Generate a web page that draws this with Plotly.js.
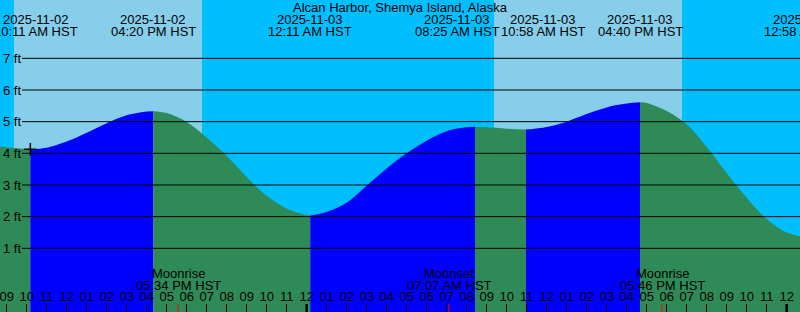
<!DOCTYPE html>
<html>
<head>
<meta charset="utf-8">
<script src="https://cdn.plot.ly/plotly-3.0.1.min.js"></script>
<style>
html,body{margin:0;padding:0;overflow:hidden;background:#00BFFF;}
#wrap{width:800px;height:312px;overflow:hidden;position:relative;}
#chart{width:840px;height:312px;}
</style>
</head>
<body>
<div id="wrap"><div id="chart"></div></div>
<script>
// ---- data ----
const stationName = 'Alcan Harbor, Shemya Island, Alaska';

const tideTimes = [
  '2025-11-02 08:40','2025-11-02 09:00','2025-11-02 10:00','2025-11-02 10:11',
  '2025-11-02 11:00','2025-11-02 12:00','2025-11-02 13:00','2025-11-02 14:00',
  '2025-11-02 15:00','2025-11-02 16:00','2025-11-02 16:20','2025-11-02 17:00',
  '2025-11-02 18:00','2025-11-02 19:00','2025-11-02 20:00','2025-11-02 21:00',
  '2025-11-02 22:00','2025-11-02 23:00','2025-11-03 00:00','2025-11-03 00:11',
  '2025-11-03 01:00','2025-11-03 02:00','2025-11-03 03:00','2025-11-03 04:00',
  '2025-11-03 05:00','2025-11-03 06:00','2025-11-03 07:00','2025-11-03 08:00',
  '2025-11-03 08:25','2025-11-03 09:00','2025-11-03 10:00','2025-11-03 10:58',
  '2025-11-03 12:00','2025-11-03 13:00','2025-11-03 14:00','2025-11-03 15:00',
  '2025-11-03 16:00','2025-11-03 16:40','2025-11-03 17:00','2025-11-03 18:00',
  '2025-11-03 19:00','2025-11-03 20:00','2025-11-03 21:00','2025-11-03 22:00',
  '2025-11-03 23:00','2025-11-04 00:00','2025-11-04 00:40'
];
const tideHeights = [
  4.21, 4.19, 4.135, 4.13,
  4.18, 4.37, 4.65, 4.95,
  5.20, 5.32, 5.33, 5.27,
  4.99, 4.50, 3.92, 3.25,
  2.66, 2.26, 2.05, 2.04,
  2.15, 2.44, 2.98, 3.52,
  4.00, 4.40, 4.70, 4.82,
  4.84, 4.82, 4.78, 4.75,
  4.83, 5.00, 5.24, 5.45,
  5.57, 5.61, 5.59, 5.34,
  4.92, 4.20, 3.38, 2.60,
  1.93, 1.50, 1.38
];

const extremeTimes = ['2025-11-02 10:11','2025-11-02 16:20','2025-11-03 00:11','2025-11-03 08:25','2025-11-03 10:58','2025-11-03 16:40','2025-11-04 00:58'];
const extremeDates = ['2025-11-02','2025-11-02','2025-11-03','2025-11-03','2025-11-03','2025-11-03','2025-11-04'];
const extremeClock = ['10:11 AM HST','04:20 PM HST','12:11 AM HST','08:25 AM HST','10:58 AM HST','04:40 PM HST','12:58 AM HST'];

const sunriseTimes = ['2025-11-02 09:22','2025-11-03 09:22'];
const sunsetTimes  = ['2025-11-02 18:46','2025-11-03 18:46'];

const moonTimes  = ['2025-11-02 17:34','2025-11-03 07:07','2025-11-03 17:46'];
const moonEvents = ['Moonrise','Moonset','Moonrise'];
const moonClock  = ['05:34 PM HST','07:07 AM HST','05:46 PM HST'];

const midnightTimes = ['2025-11-03 00:00','2025-11-04 00:00'];

const heightTicks = [1,2,3,4,5,6,7];
const heightTickLabels = ['1 ft','2 ft','3 ft','4 ft','5 ft','6 ft','7 ft'];

const markTimes = ['2025-11-02 10:11'];
const markHeights = [4.13];

// ---- layout constants ----
const W = 840, H = 312;
const xRange = ['2025-11-02 08:40','2025-11-04 02:40'];
const yRange = [-1.0105, 8.842];
const labelShift = [6, 0, 0, -18, 17, 0, 0];
const py = p => 1 - p / H;
const txtFont = {family: '"Liberation Sans", Arial, sans-serif', size: 13, color: '#000000'};

// ---- build segments split at tide extremes ----
const cut = [0];
tideTimes.forEach((t, i) => { if (i > 0 && i < tideTimes.length - 1 && extremeTimes.indexOf(t) >= 0) cut.push(i); });
cut.push(tideTimes.length - 1);

const traces = [];
for (let k = 0; k < cut.length - 1; k++) {
  const a = cut[k], b = cut[k + 1];
  const xs = tideTimes.slice(a, b + 1), ys = tideHeights.slice(a, b + 1);
  const rising = tideHeights[b] > tideHeights[a];
  traces.push({x: [xs[0], xs[xs.length - 1]], y: [yRange[0], yRange[0]], mode: 'lines',
    line: {width: 0}, hoverinfo: 'skip', showlegend: false});
  traces.push({x: xs, y: ys, mode: 'lines', line: {width: 0, shape: 'spline', smoothing: 1},
    fill: 'tonexty', fillcolor: rising ? '#0000FF' : '#2E8B57', hoverinfo: 'skip', showlegend: false});
}
traces.push({x: markTimes, y: markHeights, mode: 'markers',
  marker: {symbol: 'cross-thin', size: 9, line: {width: 1.5, color: '#000'}}, hoverinfo: 'skip', showlegend: false});

// ---- shapes ----
const shapes = [];
sunriseTimes.forEach((t, i) => shapes.push({type: 'rect', xref: 'x', yref: 'paper', x0: t, x1: sunsetTimes[i],
  y0: 0, y1: 1, fillcolor: '#87CEEB', line: {width: 0}, layer: 'below'}));
heightTicks.forEach(h => shapes.push({type: 'line', xref: 'paper', yref: 'y', x0: 22 / W, x1: 1, y0: h, y1: h,
  line: {color: '#000', width: 1}, layer: 'above'}));
moonTimes.forEach(t => shapes.push({type: 'line', xref: 'x', yref: 'paper', x0: t, x1: t, y0: 0, y1: 8 / H,
  line: {color: '#FF0000', width: 1}, layer: 'above'}));
midnightTimes.forEach(t => shapes.push({type: 'line', xref: 'x', yref: 'paper', x0: t, x1: t, y0: 0, y1: 8 / H,
  line: {color: '#000', width: 2.5}, layer: 'above'}));

// ---- annotations ----
const ann = [];
ann.push({text: stationName, xref: 'paper', yref: 'paper', x: 400 / W, y: py(7.2), xanchor: 'center', yanchor: 'middle', showarrow: false, font: txtFont});
extremeTimes.forEach((t, i) => {
  ann.push({text: extremeDates[i], xref: 'x', yref: 'paper', x: t, y: py(19.5), xanchor: 'center', yanchor: 'middle', xshift: labelShift[i], showarrow: false, font: txtFont});
  ann.push({text: extremeClock[i], xref: 'x', yref: 'paper', x: t, y: py(31.3), xanchor: 'center', yanchor: 'middle', xshift: labelShift[i], showarrow: false, font: txtFont});
});
moonTimes.forEach((t, i) => {
  ann.push({text: moonEvents[i], xref: 'x', yref: 'paper', x: t, y: py(273.8), xanchor: 'center', yanchor: 'middle', showarrow: false, font: txtFont});
  ann.push({text: moonClock[i], xref: 'x', yref: 'paper', x: t, y: py(285.5), xanchor: 'center', yanchor: 'middle', showarrow: false, font: txtFont});
});

const layout = {
  width: W, height: H,
  margin: {l: 0, r: 0, t: 0, b: 0, pad: 0},
  paper_bgcolor: '#00BFFF', plot_bgcolor: '#00BFFF',
  showlegend: false,
  font: txtFont,
  xaxis: {type: 'date', range: xRange, showgrid: false, zeroline: false, showline: false,
    ticks: 'inside', ticklen: 8, tickwidth: 1, tickcolor: '#000',
    dtick: 3600000, tick0: '2025-11-02 00:00', tickformat: '%I',
    tickfont: txtFont, color: '#000000',
    ticklabelposition: 'inside', ticklabeloverflow: 'allow', fixedrange: true},
  yaxis: {range: yRange, showgrid: false, zeroline: false, showline: false,
    tickmode: 'array', tickvals: heightTicks, ticktext: heightTickLabels, ticks: '',
    tickfont: txtFont, color: '#000000',
    ticklabelposition: 'inside', ticklabeloverflow: 'allow', fixedrange: true},
  shapes: shapes,
  annotations: ann
};

Plotly.newPlot('chart', traces, layout, {displayModeBar: false, staticPlot: true});
</script>
</body>
</html>
